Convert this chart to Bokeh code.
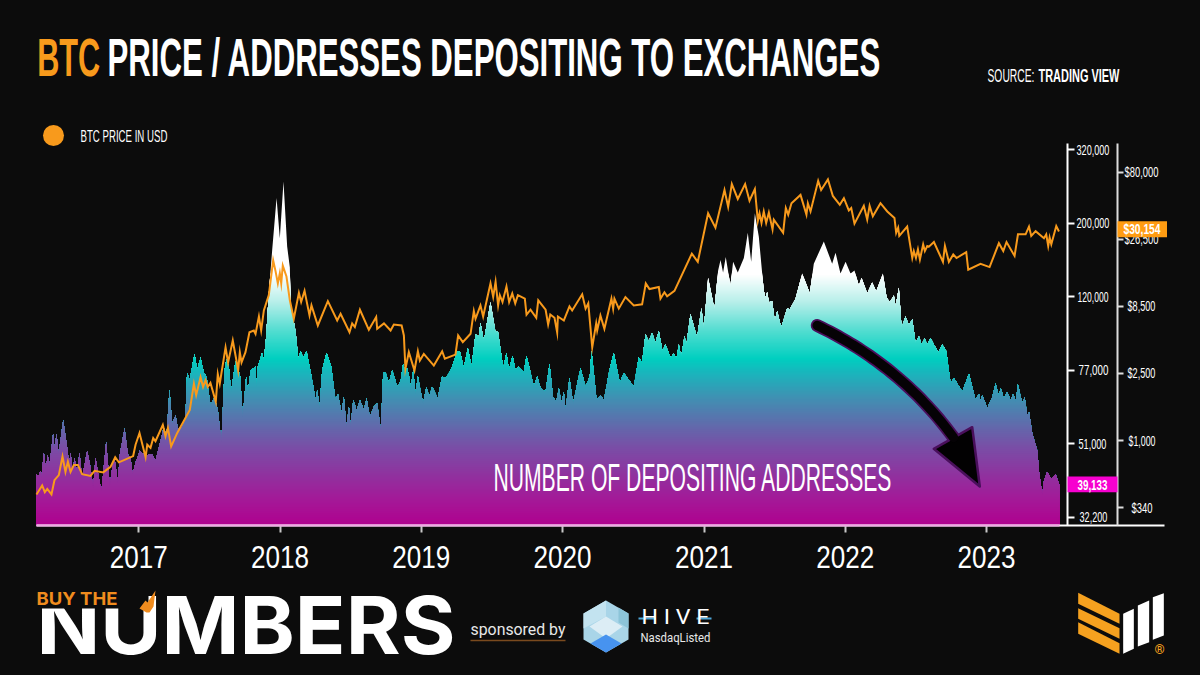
import json
import numpy as np
from bokeh.plotting import figure
from bokeh.models import LinearAxis, FixedTicker, Label, Range1d, BoxAnnotation, PolyAnnotation
from bokeh.embed import file_html
from bokeh.resources import INLINE

# ---------- data ----------
address_dates = [2016.276,2016.290,2016.304,2016.311,2016.328,2016.342,2016.356,2016.366,2016.394,2016.403,2016.418,2016.432,2016.465,2016.493,2016.507,2016.517,2016.533,2016.545,2016.564,2016.580,2016.599,2016.635,2016.658,2016.677,2016.694,2016.717,2016.736,2016.769,2016.795,2016.812,2016.828,2016.852,2016.866,2016.899,2016.923,2016.941,2016.956,2016.977,2017.007,2017.048,2017.071,2017.095,2017.118,2017.142,2017.177,2017.196,2017.217,2017.236,2017.260,2017.276,2017.307,2017.330,2017.342,2017.361,2017.394,2017.413,
 2017.437,2017.460,2017.479,2017.507,2017.536,2017.559,2017.585,2017.607,2017.621,2017.637,2017.654,2017.685,2017.701,2017.715,2017.736,2017.760,2017.772,2017.791,2017.826,2017.831,2017.843,2017.873,2017.885,2017.901,2017.920,2017.944,2017.975,2017.998,2018.024,2018.050,2018.069,2018.074,2018.109,2018.121,2018.128,2018.145,2018.163,2018.187,2018.222,2018.239,2018.251,2018.263,2018.279,2018.298,2018.329,2018.362,2018.392,2018.409,2018.435,2018.451,2018.470,2018.487,2018.499,2018.518,2018.541,2018.565,2018.593,2018.612,2018.635,2018.664,2018.687,2018.713,2018.730,2018.746,2018.770,2018.794,2018.829,
 2018.852,2018.871,2018.885,2018.899,2018.918,2018.923,2018.942,2018.958,2018.975,2019.012,2019.036,2019.055,2019.076,2019.116,2019.147,2019.171,2019.187,2019.218,2019.253,2019.272,2019.300,2019.329,2019.355,2019.383,2019.407,2019.418,2019.442,2019.489,2019.525,2019.541,2019.579,2019.602,2019.619,2019.645,2019.666,2019.690,2019.725,2019.744,2019.796,2019.820,2019.843,2019.879,2019.907,2019.931,2019.954,2019.973,2019.992,2020.008,2020.020,2020.048,2020.074,2020.126,2020.162,2020.192,2020.204,2020.240,2020.268,2020.292,2020.327,
 2020.361,2020.404,2020.432,2020.503,2020.538,2020.562,2020.586,2020.609,2020.633,2020.656,2020.680,2020.706,2020.727,2020.763,2020.786,2020.805,2020.822,2020.838,2020.862,2020.876,2020.904,2020.951,2020.982,2020.999,2021.029,2021.074,2021.100,2021.117,2021.135,2021.154,2021.187,2021.206,2021.239,2021.282,2021.310,2021.334,2021.360,2021.388,2021.423,2021.435,2021.447,2021.459,2021.482,2021.501,2021.518,2021.546,2021.589,2021.607,2021.648,
 2021.695,2021.749,2021.777,2021.848,2021.907,2021.931,2021.966,2022.002,2022.037,2022.065,2022.096,2022.115,2022.155,2022.190,2022.219,2022.266,2022.292,2022.315,2022.344,2022.356,2022.379,2022.398,2022.426,2022.450,2022.474,2022.497,2022.521,2022.540,2022.561,2022.580,2022.603,2022.627,2022.658,2022.686,2022.714,
 2022.745,2022.769,2022.828,2022.875,2022.922,2022.946,2022.957,2022.969,2023.005,2023.040,2023.064,2023.087,2023.099,2023.123,2023.146,2023.170,2023.189,2023.205,2023.222,2023.252,2023.269,2023.288,2023.300,2023.323,2023.359,2023.370,2023.394,2023.406,2023.429,2023.458,2023.488,2023.517]
addresses_k = [42.1,41.6,43.0,41.2,48.2,43.4,47.7,43.9,54,49.3,54,47.7,58.2,49.8,44.8,48.2,42.5,46.7,42.1,48.2,41.2,48.8,43.9,38.7,46.7,41.2,37.9,51.4,39.1,43.9,46.7,39.9,47.7,55.5,47.7,46.7,42.1,45.3,48.8,47.2,47.7,47.7,45.8,49.8,56,53,68.9,57.1,59.8,55.5,56,58.8,75.8,72.9,85,77,
 83.1,75.8,74.3,63.3,66.3,61.5,51.4,77,82.4,78.6,68.2,81.5,77,75.8,59.2,74.3,67.5,77,78.6,70.2,78.6,85.5,81.5,93.6,122.6,166,235,180,261,170,147,114.5,97.5,88,82.4,86.5,83.1,86.5,74.3,68.9,65.1,68.9,62.1,77,85.5,78.6,65.1,67.5,60.4,66.3,56,62.7,56,65.1,61.5,65.1,61.5,65.7,59.2,62.7,63.9,55,76.2,76.2,71.6,77,70.2,
 72.2,79.9,77,77.9,72.9,68.9,77,67.5,74.3,63.9,70.2,66.3,70.2,65.7,74.3,73.6,75,78.6,86.5,86.5,77.9,88,78.6,95.5,94.5,102.5,91.7,116,96.5,97.5,77.9,85.5,77,84,77,78.6,76.2,84,70.2,74.3,69.6,68.2,79.9,66.3,64.5,69.6,63.9,68.2,61.5,73.6,63.9,77.9,70.2,74.3,86.5,65.1,66.9,65.1,75.8,
 85.5,71.6,75.8,70.2,83.1,80.7,95.5,91.7,96.5,90.8,97.5,86.5,89.9,83.1,85,82.4,89.9,83.1,94.5,89.9,108,93.6,112,98.5,137,111,144,155,142,158,129.5,153,142,157,187,153,213,182,125,119.5,124,116,117,103.5,110,99.5,112,111,118.5,
 141,122.6,151,176,151,163,141,153,141,144,129.5,137,122.6,132.5,124.5,141,119.5,116,121,113,128,99.5,106.5,101,104.7,90.8,94.5,89.9,93.2,89.9,93.6,89.9,85.5,89.9,86.5,
 71.6,73.6,68.2,75.4,65.1,67.5,64.5,66.9,62.1,66.3,71.6,66.3,69.6,65.7,68.2,65.1,67.5,64.5,71.1,63.9,66.3,59.8,60.9,54,48.8,43,37,40.3,42.8,40.8,42.1,39.133]

price_dates = [2016.276,2016.316,2016.335,2016.352,2016.382,2016.403,2016.434,2016.460,2016.481,2016.498,2016.517,2016.540,2016.569,2016.599,2016.658,2016.687,2016.748,2016.800,2016.833,2016.859,2016.960,2016.977,2017.005,2017.048,2017.060,2017.083,2017.102,2017.118,2017.170,2017.189,2017.206,2017.229,2017.272,2017.361,2017.390,2017.406,2017.437,
 2017.455,2017.472,2017.488,2017.507,2017.545,2017.559,2017.573,2017.614,2017.632,2017.665,2017.691,2017.703,2017.715,2017.727,2017.755,2017.783,2017.814,2017.826,2017.850,2017.866,2017.885,2017.920,2017.951,2017.968,2017.984,2017.998,2018.008,2018.019,2018.045,2018.069,2018.097,2018.133,2018.149,2018.173,2018.208,2018.222,2018.267,2018.338,2018.404,2018.428,2018.491,2018.510,2018.529,2018.565,2018.628,2018.680,2018.687,2018.735,2018.782,2018.805,2018.860,
 2018.876,2018.887,2018.911,2018.951,2018.975,2018.989,2019.017,2019.088,2019.147,2019.166,2019.241,2019.260,2019.293,2019.348,2019.371,2019.383,2019.418,2019.437,2019.489,2019.508,2019.525,2019.543,2019.555,2019.574,2019.602,2019.621,2019.643,2019.664,2019.683,2019.732,2019.744,2019.772,2019.813,2019.827,2019.879,2019.897,2019.912,2019.942,2019.961,2019.966,2020.008,2020.048,2020.067,2020.138,2020.162,2020.181,2020.209,2020.237,2020.244,
 2020.267,2020.295,2020.345,2020.357,2020.366,2020.397,2020.444,2020.503,2020.562,2020.588,2020.614,2020.680,2020.692,2020.720,2020.739,2020.791,2020.914,2020.956,2021.029,2021.081,2021.145,2021.171,2021.197,2021.239,2021.291,2021.322,2021.360,2021.381,2021.393,2021.407,2021.423,2021.440,2021.459,2021.485,2021.494,2021.560,2021.579,2021.596,2021.619,
 2021.683,2021.725,2021.735,2021.754,2021.808,2021.829,2021.877,2021.912,2021.961,2021.990,2022.025,2022.042,2022.065,2022.131,2022.155,2022.172,2022.195,2022.249,2022.297,2022.348,2022.360,2022.374,2022.382,2022.438,2022.474,2022.485,2022.500,2022.514,2022.528,2022.551,2022.563,2022.580,2022.592,2022.627,2022.691,2022.705,2022.733,2022.764,2022.787,2022.856,2022.870,2022.957,2023.021,2023.087,2023.118,2023.141,2023.198,2023.222,2023.276,2023.300,2023.316,2023.347,2023.406,2023.422,2023.436,2023.446,2023.458,2023.493,2023.512]
price_usd = [421,487,436,460,421,529,574,775,605,713,605,675,675,583,567,615,600,655,765,705,780,936,1110,765,936,890,1035,990,1241,1060,1190,910,1110,1519,2175,1860,2380,
 2080,2276,2080,2200,1700,2480,2175,4030,3060,4564,3168,2639,3690,3060,3690,5310,5478,5150,7070,5478,7893,10280,18560,15400,12550,14950,12550,16950,14100,9430,6780,10700,9150,11070,7205,8650,6002,9300,6576,7430,5300,6230,5830,8000,5540,7000,5650,6230,5478,6100,6002,
 5000,2720,3690,2639,3750,3168,3570,2891,3750,3270,3530,5000,4430,5160,7800,6780,8650,7070,12550,10000,12900,8650,10280,9150,11900,9150,10580,8950,10280,9700,7300,8000,6900,9430,8000,6120,7340,6900,5270,7070,6576,8500,7893,10450,8160,8950,4030,6230,5478,
 7205,5650,9700,8160,9700,8160,9950,8650,8800,12550,11400,11800,9700,10800,10100,11070,20800,18100,40700,32100,59700,45200,65800,51500,65800,50000,60700,35800,40700,34700,41900,34700,41100,31170,36670,29500,44300,39770,48000,
 55040,39770,48000,41900,69400,59700,71000,54100,46790,52200,42600,44300,34300,46000,36670,46000,38700,48000,41900,37700,29500,32100,28000,32700,19300,21700,19300,22330,18790,24340,21700,23650,23400,25300,18100,23650,18100,20480,19300,21300,15820,17500,16550,24800,21700,25300,20000,28740,28740,32700,28000,30300,27000,28740,23650,27300,24340,33000,30154]

address_ticks = [32200, 51000, 77000, 120000, 200000, 320000]
address_labels = ["32,200", "51,000", "77,000", "120,000", "200,000", "320,000"]
price_ticks = [340, 1000, 2500, 8500, 26500, 80000]
price_labels = ["$340", "$1,000", "$2,500", "$8,500", "$26,500", "$80,000"]
year_ticks = [2017, 2018, 2019, 2020, 2021, 2022, 2023]
last_address = "39,133"
last_price = "$30,154"

# ---------- layout helpers: reference pixel -> plot coordinates ----------
X = lambda px: 2017 + (px - 138.3) / 141.3
U = lambda py: (516.7 - py) / 73.5
V = lambda py: (507.2 - py) / 67.1
BG = "#0c0c0c"
COND = "Liberation Sans"

p = figure(width=1200, height=675, toolbar_location=None, output_backend="svg",
           x_range=Range1d(X(0), X(1200)), y_range=Range1d(U(675), U(0)),
           x_axis_type=None, y_axis_type=None, min_border=0, outline_line_color=None,
           background_fill_color=BG, border_fill_color=BG)
p.extra_y_ranges = {"price": Range1d(V(675), V(0))}

addr_u = np.interp(np.log(np.array(addresses_k) * 1000), np.log(address_ticks), np.arange(6))
price_v = np.interp(np.log(price_usd), np.log(price_ticks), np.arange(6))
ax_dates = np.array(address_dates)
base = U(525)

# ---------- gradient area: stacked layers clipped to the series ----------
stops_y = [273, 300, 330, 357, 372, 397, 430, 447, 497, 525]
stops_c = ["#ffffff", "#b8efea", "#50dcd0", "#00cfc0", "#1ab4bc", "#418fb2", "#6862aa", "#7a4da6", "#a31a98", "#b0008e"]
rgb = np.array([[int(c[i:i + 2], 16) for i in (1, 3, 5)] for c in stops_c])
def shade(py):
    return "#%02x%02x%02x" % tuple(int(round(np.interp(py, stops_y, rgb[:, k]))) for k in range(3))

def clipped(xs, ys, level):
    ox, oy = [], []
    n = len(xs)
    for i in range(n):
        if ys[i] <= level:
            ox.append(xs[i]); oy.append(ys[i])
        elif i == 0 or i == n - 1:
            ox.append(xs[i]); oy.append(level)
        if i < n - 1 and (ys[i] - level) * (ys[i + 1] - level) < 0:
            t = (level - ys[i]) / (ys[i + 1] - ys[i])
            ox.append(xs[i] + t * (xs[i + 1] - xs[i])); oy.append(level)
    return ox, oy

p.varea(x=list(ax_dates), y1=[base] * len(ax_dates), y2=list(addr_u), fill_color="#ffffff")
for py in np.arange(273, 525, 2.0):
    ox, oy = clipped(ax_dates, addr_u, U(py))
    p.varea(x=ox, y1=[base] * len(ox), y2=oy, fill_color=shade(py))

# ---------- price line ----------
p.line(price_dates, price_v, y_range_name="price", line_color="#f89a1c", line_width=2, line_join="miter")

# ---------- arrow ----------
t = np.linspace(0, 1, 40)
ax_d = [X(a) for a in (1 - t) ** 2 * 816.7 + 2 * t * (1 - t) * 900 + t ** 2 * 953]
ay_d = [U(a) for a in (1 - t) ** 2 * 325 + 2 * t * (1 - t) * 365 + t ** 2 * 437]
hx = [X(a) for a in (971.7, 933.3, 979.3)]
hy = [U(a) for a in (426.7, 448.3, 486)]
p.line(ax_d, ay_d, line_color="#4a0f5c", line_width=13, line_cap="round", line_join="round")
p.patch(hx, hy, fill_color="#020102", line_color="#4a0f5c", line_width=2.5, line_join="round")
p.line(ax_d, ay_d, line_color="#050205", line_width=9.5, line_cap="round", line_join="round")

# ---------- axes ----------
def y_axis(location_px, labels, range_name, color, to_u, tick, standoff):
    kw = {} if range_name is None else {"y_range_name": range_name}
    a = LinearAxis(fixed_location=X(location_px), ticker=FixedTicker(ticks=list(range(6))),
                   major_label_overrides={i: s for i, s in enumerate(labels)},
                   bounds=(to_u(525), to_u(143)), axis_line_color=color, axis_line_width=2,
                   major_tick_line_color=color, major_tick_line_width=2, major_tick_out=tick, major_tick_in=0,
                   minor_tick_out=0, minor_tick_in=0, major_label_standoff=standoff,
                   major_label_text_color="#ffffff", major_label_text_font=COND,
                   major_label_text_font_size="14px", **kw)
    p.add_layout(a, "right")
y_axis(1067, address_labels, None, "#ffffff", U, 7, 2)
y_axis(1117, price_labels, "price", "#dddddd", V, 6, 1)

xa = LinearAxis(fixed_location=U(525), ticker=FixedTicker(ticks=year_ticks),
                major_label_overrides={y: str(y) for y in year_ticks}, bounds=(X(36), X(1164)),
                axis_line_color="#ffffff", axis_line_width=2, major_tick_line_color="#c8c8c8",
                major_tick_line_width=2, major_tick_out=7, major_tick_in=0, minor_tick_out=0, minor_tick_in=0,
                major_label_standoff=14, major_label_text_color="#ffffff", major_label_text_font=COND,
                major_label_text_font_size="32px")
p.add_layout(xa, "below")
p.line([X(36), X(1059)], [base, base], line_color="#f0a8e4", line_width=2, level="annotation")

# ---------- value tags ----------
p.quad(left=[X(1067)], right=[X(1117)], bottom=[U(491.7)], top=[U(476)], fill_color="#f700cf", line_color=None, level="annotation")
p.quad(left=[X(1117)], right=[X(1166.5)], bottom=[U(236.7)], top=[U(220.7)], fill_color="#ff9c12", line_color=None, level="annotation")

def label(px, py, text, size, color="#ffffff", font=COND, style="normal"):
    p.add_layout(Label(x=X(px), y=U(py), text=text, text_font=font, text_font_style=style,
                       text_font_size=f"{size}px", text_color=color, text_align="left",
                       text_baseline="middle", level="overlay"))

label(1077, 484, last_address, 14, style="bold")
label(1123, 229, last_price, 14, style="bold")

# ---------- titles ----------
label(36.7, 57, "BTC", 53, "#f89a1c", style="bold")
label(107, 57, "PRICE / ADDRESSES DEPOSITING TO EXCHANGES", 53, style="bold")
label(987, 75, "SOURCE:", 19)
label(1038, 75, "TRADING VIEW", 19, style="bold")
label(80, 135.5, "BTC PRICE IN USD", 16)
p.scatter([X(53)], [U(135)], size=21, marker="circle", fill_color="#f89a1c", line_color=None)
label(493, 477, "NUMBER OF DEPOSITING ADDRESSES", 39)

# ---------- footer ----------
def poly(points, color, level="glyph"):
    p.patch([X(a) for a, b in points], [U(b) for a, b in points], fill_color=color, line_color=None, level=level)

label(33, 624, "NUMBERS", 80, "#ffffff", "Inter", "bold")
p.add_layout(BoxAnnotation(left=X(28), right=X(148), top=U(588), bottom=U(608), fill_color=BG, fill_alpha=1,
                           line_color=None, level="overlay"))
label(36, 597.5, "BUY THE", 18, "#f08c1e", "Inter", "bold")
spark = [(139, 608), (145, 600), (147, 602), (155, 590), (153, 606), (149, 612), (146, 612)]
p.add_layout(PolyAnnotation(xs=[X(a) for a, b in spark], ys=[U(b) for a, b in spark], fill_color="#f08c1e", fill_alpha=1,
                            line_color=None, level="overlay"))
label(470, 629, "sponsored by", 16, "#e8e8e8", "Roboto")
p.line([X(470), X(565)], [U(640), U(640)], line_color="#7a4a1e", line_width=1.5)

poly([(605.5, 600), (628, 613), (628, 639), (605.5, 652), (583, 639), (583, 613)], "#a9d5e8")
poly([(605.5, 600), (583, 613), (583, 628), (605.5, 616)], "#c3e3f0")
poly([(605.5, 616), (622, 626), (605.5, 638), (589, 626)], "#dcedf5")
poly([(628, 613), (628, 628), (618, 622), (618, 607)], "#8cc4d8")
poly([(605.5, 652), (590, 643), (605.5, 634), (621, 643)], "#4793ef")
label(640, 617, "H I V E", 20, "#ffffff", "Roboto", "normal")
p.line([X(638), X(655)], [U(618), U(618)], line_color="#4ea7d8", line_width=2, level="overlay")
p.line([X(696), X(711)], [U(618), U(618)], line_color="#4ea7d8", line_width=2, level="overlay")
label(640, 637, "NasdaqListed", 12.5, "#e8e8e8", "Roboto")

OR = "#f5a11f"
def zoom5(points):
    return [(1050 + a / 3, 580 + b / 3) for a, b in points]
poly(zoom5([(83, 37), (207, 100), (207, 130), (83, 70)]), OR)
poly(zoom5([(83, 83), (207, 143), (207, 175), (83, 115)]), OR)
poly(zoom5([(83, 125), (207, 188), (207, 220), (83, 160)]), OR)
poly(zoom5([(218, 100), (250, 85), (250, 205), (218, 220)]), "#ffffff")
poly(zoom5([(262, 75), (296, 60), (296, 185), (262, 198)]), "#ffffff")
poly(zoom5([(307, 50), (340, 38), (340, 165), (307, 178)]), "#ffffff")
label(1154, 649, "®", 13, OR, "Roboto", "bold")

# ---------- condensed lettering: text -> [width in px, shift in px] ----------
fit = {"BTC": [63, 0], "PRICE / ADDRESSES DEPOSITING TO EXCHANGES": [773, 0],
       "SOURCE:": [47, 0], "TRADING VIEW": [81, 0], "BTC PRICE IN USD": [87, 0],
       "NUMBER OF DEPOSITING ADDRESSES": [398, 0], last_address: [30, 0], last_price: [37, 0],
       "320,000": [33, 0], "200,000": [33, 0], "120,000": [31, 1], "77,000": [30, 2], "51,000": [28, 2], "32,200": [28, 3],
       "$80,000": [34, 0], "$26,500": [34, 0], "$8,500": [28, 3], "$2,500": [28, 3], "$1,000": [27, 4], "$340": [21, 7],
       "NUMBERS": [419, 3], "BUY THE": [81, 0], "sponsored by": [95, 0], "H I V E": [68, 1], "NasdaqListed": [70, 0]}
for y in year_ticks:
    fit[str(y)] = [58, 6.5]
script = """<script>
(function(){var FIT=%s;
function fix(el){if(el.getAttribute('data-fit'))return;var f=FIT[el.textContent];if(!f)return;
 var n=el.getComputedTextLength();if(!n)return;var s=f[0]/n,x=parseFloat(el.getAttribute('x')||0),o=el.getAttribute('transform')||'';
 el.setAttribute('transform',(o+' translate('+(x+f[1])+' 0) scale('+s+' 1) translate('+(-x)+' 0)').trim());el.setAttribute('data-fit','1');}
function walk(r){r.querySelectorAll('*').forEach(function(e){if(e.shadowRoot)walk(e.shadowRoot);if(e.tagName==='text')fix(e);});}
var c=0,h=setInterval(function(){walk(document);if(++c>60)clearInterval(h);},50);})();
</script>""" % json.dumps(fit)

html = file_html(p, INLINE).replace("<body>", f'<body style="background:{BG}">').replace("</body>", script + "</body>")
open("out.html", "w").write(html)
